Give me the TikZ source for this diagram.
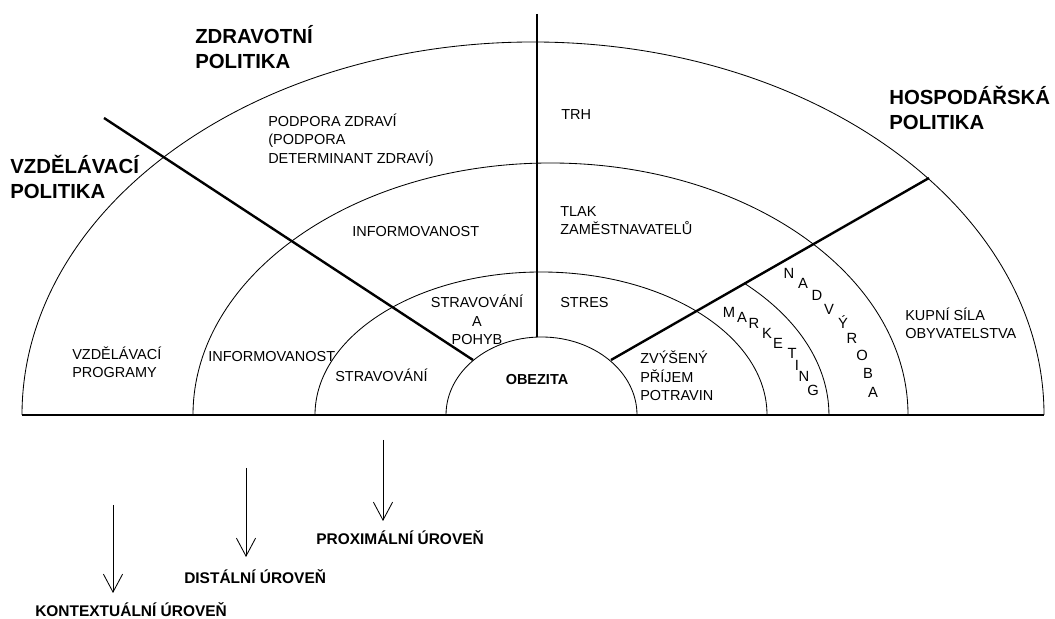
\documentclass[tikz,border=0pt]{standalone}
\usepackage{fontspec}
\setmainfont{Liberation Sans}
\usetikzlibrary{arrows.meta}

\begin{document}
\begin{tikzpicture}[x=0.25mm, y=0.25mm,
  ring/.style={line width=0.6pt},
  ray/.style={line width=1.7pt},
  lbl/.style={font=\fontsize{10.3}{13}\selectfont, inner sep=0pt, align=left, anchor=west},
  pol/.style={font=\fontsize{14.5}{17.8}\selectfont\bfseries, inner sep=0pt, align=left, anchor=west},
  lvl/.style={font=\fontsize{11}{13}\selectfont\bfseries, inner sep=0pt, anchor=west},
  chr/.style={font=\fontsize{10.5}{13}\selectfont, inner sep=0pt},
  arr/.style={-{Straight Barb[length=4.5mm, width=4.8mm]}, line width=0.6pt}
]
\useasboundingbox (0,0) rectangle (1055,619);

% Rings
\draw[ring] (22,204)  arc[start angle=180, end angle=0, x radius=511,   y radius=373];
\draw[ring] (193,204) arc[start angle=180, end angle=0, x radius=357.5, y radius=252];
\draw[ring] (315,204) arc[start angle=180, end angle=0, x radius=226,   y radius=143];
\draw[ring] (446,204) arc[start angle=180, end angle=0, x radius=95.5,  y radius=78];
\coordinate (mk) at (744.6,335.5);
\draw[ring] (mk) arc[start angle=45, end angle=0, x radius=288, y radius=186];

% Baseline
\coordinate (bl) at (22,204);
\coordinate (br) at (1044,204);
\draw[line width=1pt] (bl) -- (br);

% Policy rays
\coordinate (vz1) at (104,501);  \coordinate (vz2) at (473,259);
\coordinate (zd1) at (537,605);  \coordinate (zd2) at (537,282);
\coordinate (ho1) at (929,441);  \coordinate (ho2) at (611,259);
\draw[ray] (vz1) -- (vz2);
\draw[ray] (zd1) -- (zd2);
\draw[ray] (ho1) -- (ho2);

% Policies
\node[pol] (zdrav) at (195,571.5) {ZDRAVOTNÍ\\POLITIKA};
\node[pol] (vzdel) at (10,442.5)  {VZDĚLÁVACÍ\\POLITIKA};
\node[pol] (hosp)  at (889,511.5) {HOSPODÁŘSKÁ\\POLITIKA};

% Ring labels
\node[lbl] (podpora) at (268,479) {PODPORA ZDRAVÍ\\(PODPORA\\DETERMINANT ZDRAVÍ)};
\node[lbl] (trh)     at (561,504) {TRH};
\node[lbl] (info1)   at (352,387) {INFORMOVANOST};
\node[lbl] (tlak)    at (560,398.5) {TLAK\\ZAMĚSTNAVATELŮ};
\node[lbl, anchor=center, align=center] (strpoh) at (477,299) {STRAVOVÁNÍ\\A\\POHYB};
\node[lbl] (stres)   at (560,316) {STRES};
\node[lbl] (vzprog)  at (72,256.5) {VZDĚLÁVACÍ\\PROGRAMY};
\node[lbl] (info2)   at (208,262) {INFORMOVANOST};
\node[lbl] (strav)   at (335,244) {STRAVOVÁNÍ};
\node[lbl] (prijem)  at (640,243) {ZVÝŠENÝ\\PŘÍJEM\\POTRAVIN};
\node[lbl] (kupni)   at (905,296) {KUPNÍ SÍLA\\OBYVATELSTVA};
\node[chr, font=\fontsize{10.3}{13}\selectfont\bfseries] (obez) at (537,239) {OBEZITA};

% Letters along the arcs
\foreach \x/\y/\c [count=\i] in {729/307/M, 742/302/A, 754/296/R, 767/286/K, 778/276/E,
                                 792/266/T, 797/254/I, 804/243/N, 813/229/G}
  \node[chr] (mark\i) at (\x,\y) {\c};
\foreach \x/\y/\c [count=\i] in {789/346/N, 803/336/A, 817/324/D, 829/310/V, 843/297/Ý,
                                 852/281/R, 862/264/O, 868/246/B, 873/227/A}
  \node[chr] (nadv\i) at (\x,\y) {\c};

% Levels
\node[lvl] (kont) at (35,9)   {KONTEXTUÁLNÍ ÚROVEŇ};
\node[lvl] (dist) at (184,42) {DISTÁLNÍ ÚROVEŇ};
\node[lvl] (prox) at (316,81) {PROXIMÁLNÍ ÚROVEŇ};
\coordinate (k1) at (113,114); \coordinate (k2) at (113,26);
\coordinate (d1) at (246,151); \coordinate (d2) at (246,62);
\coordinate (p1) at (383,179); \coordinate (p2) at (383,98);
\draw[arr] (k1) -- (k2);
\draw[arr] (d1) -- (d2);
\draw[arr] (p1) -- (p2);
\end{tikzpicture}
\end{document}
